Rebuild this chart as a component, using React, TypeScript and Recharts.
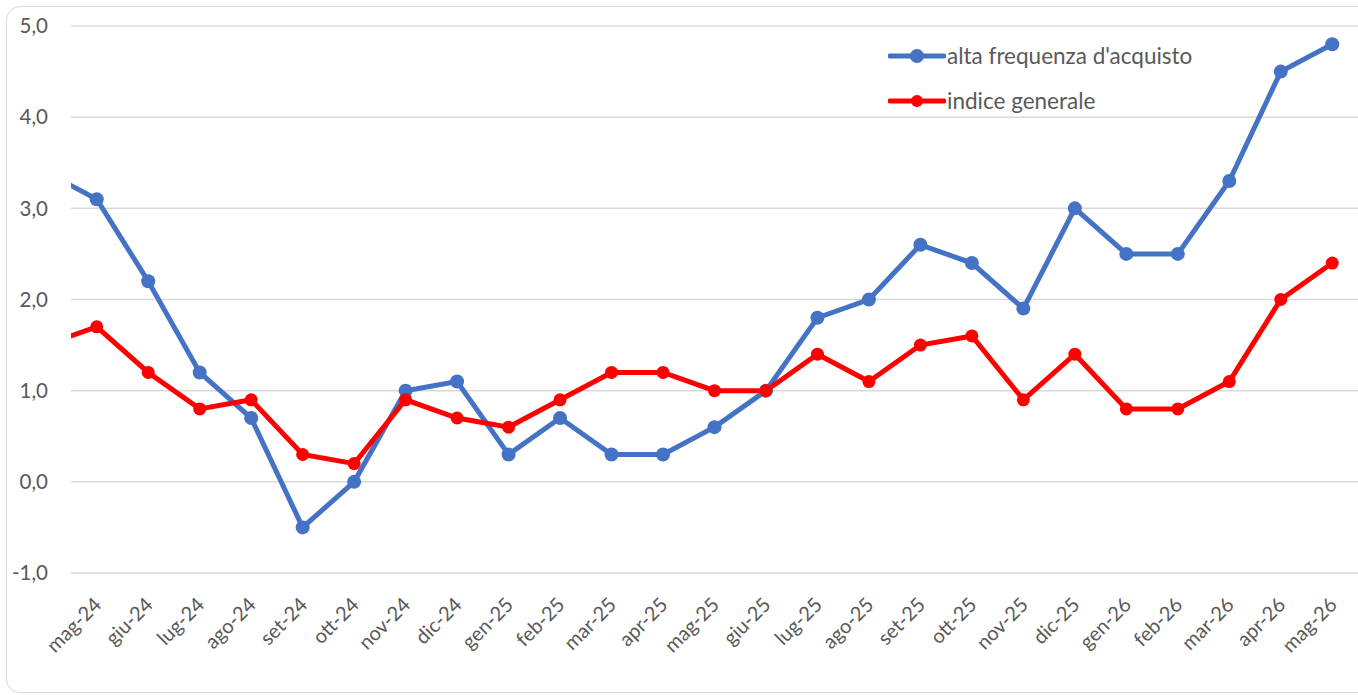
import { LineChart, Line, XAxis, YAxis, CartesianGrid } from "recharts";

// apr-24 is only partly visible at the left edge of the plot
const months = [
  "apr-24", "mag-24", "giu-24", "lug-24", "ago-24", "set-24", "ott-24", "nov-24", "dic-24",
  "gen-25", "feb-25", "mar-25", "apr-25", "mag-25", "giu-25", "lug-25", "ago-25", "set-25",
  "ott-25", "nov-25", "dic-25", "gen-26", "feb-26", "mar-26", "apr-26", "mag-26",
];
const altaFrequenza = [
  3.4, 3.1, 2.2, 1.2, 0.7, -0.5, 0.0, 1.0, 1.1, 0.3, 0.7, 0.3, 0.3, 0.6, 1.0, 1.8, 2.0, 2.6,
  2.4, 1.9, 3.0, 2.5, 2.5, 3.3, 4.5, 4.8,
];
const indiceGenerale = [
  1.5, 1.7, 1.2, 0.8, 0.9, 0.3, 0.2, 0.9, 0.7, 0.6, 0.9, 1.2, 1.2, 1.0, 1.0, 1.4, 1.1, 1.5,
  1.6, 0.9, 1.4, 0.8, 0.8, 1.1, 2.0, 2.4,
];
const yTicks = [-1, 0, 1, 2, 3, 4, 5];

const BLUE = "#4472C4";
const RED = "#FF0000";
const FONT = "Lato, 'Open Sans', sans-serif";

const data = months.map((m, i) => ({
  idx: i,
  month: m,
  alta: altaFrequenza[i],
  indice: indiceGenerale[i],
}));
const xTicks = months.slice(1).map((_, i) => i + 1);

const fmt = (v: number) => v.toFixed(1).replace(".", ",");

function MonthTick({ x, y, payload }: any) {
  return (
    <g transform={`translate(${x + 6},${y + 25})`}>
      <text
        textAnchor="end"
        transform="rotate(-45)"
        fill="#595959"
        fontSize={20}
        fontFamily={FONT}
      >
        {months[payload.value]}
      </text>
    </g>
  );
}

function LegendBox() {
  const items = [
    { label: "alta frequenza d'acquisto", color: BLUE, r: 7 },
    { label: "indice generale", color: RED, r: 6 },
  ];
  return (
    <div style={{ position: "absolute", left: 888, top: 33, fontFamily: FONT, fontSize: 22.5, color: "#595959" }}>
      {items.map((it) => (
        <div key={it.label} style={{ display: "flex", alignItems: "center", height: 45 }}>
          <svg width={58} height={20}>
            <line x1={2} y1={10} x2={56} y2={10} stroke={it.color} strokeWidth={5} strokeLinecap="round" />
            <circle cx={29} cy={10} r={it.r} fill={it.color} />
          </svg>
          <span style={{ marginLeft: 1 }}>{it.label}</span>
        </div>
      ))}
    </div>
  );
}

export default function App() {
  return (
    <div style={{ position: "absolute", left: 0, top: 0, width: 1358, height: 695, overflow: "hidden", background: "#fff" }}>
      <div
        style={{
          position: "absolute",
          left: 6,
          top: 6,
          width: 1400,
          height: 685,
          border: "1.5px solid #D9D9D9",
          borderRadius: 14,
        }}
      />
      <div style={{ position: "absolute", left: 0, top: 0 }}>
        <LineChart width={1358} height={695} data={data} margin={{ top: 26, right: 0, bottom: 22, left: 0 }}>
          <CartesianGrid vertical={false} stroke="#D9D9D9" strokeWidth={1.5} />
          <XAxis
            dataKey="idx"
            type="number"
            domain={[0.5, 25.5]}
            ticks={xTicks}
            allowDataOverflow
            axisLine={false}
            tickLine={false}
            height={100}
            interval={0}
            tick={<MonthTick />}
          />
          <YAxis
            domain={[-1, 5]}
            ticks={yTicks}
            width={71}
            axisLine={false}
            tickLine={false}
            tickSize={0}
            tickMargin={23}
            tickFormatter={fmt}
            tick={{ fill: "#595959", fontSize: 20.5, fontFamily: FONT }}
          />
          <Line
            dataKey="alta"
            name="alta frequenza d'acquisto"
            stroke={BLUE}
            strokeWidth={5}
            dot={{ r: 7, fill: BLUE, stroke: BLUE, strokeWidth: 0 }}
            activeDot={false}
            isAnimationActive={false}
          />
          <Line
            dataKey="indice"
            name="indice generale"
            stroke={RED}
            strokeWidth={5}
            dot={{ r: 6.5, fill: RED, stroke: RED, strokeWidth: 0 }}
            activeDot={false}
            isAnimationActive={false}
          />
        </LineChart>
      </div>
      <LegendBox />
    </div>
  );
}
